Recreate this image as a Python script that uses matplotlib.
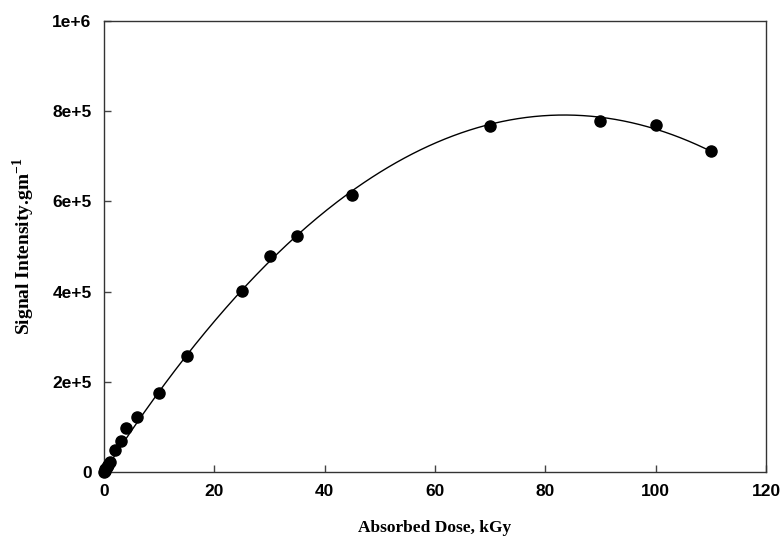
import numpy as np
import matplotlib.pyplot as plt

plt.rcParams['mathtext.fontset'] = 'custom'
plt.rcParams['mathtext.rm'] = 'Liberation Serif:bold'
plt.rcParams['mathtext.bf'] = 'Liberation Serif:bold'

# absorbed dose (kGy) and signal intensity per gram
dose = [0, 0.1, 0.25, 0.5, 0.75, 1.0, 2, 3, 4, 6, 10, 15, 25, 30, 35, 45, 70, 90, 100, 110]
signal = [0, 3.0e3, 6.5e3, 1.1e4, 1.6e4, 2.1e4, 4.9e4, 6.9e4, 9.8e4, 1.22e5, 1.75e5, 2.58e5,
          4.02e5, 4.78e5, 5.24e5, 6.15e5, 7.68e5, 7.78e5, 7.69e5, 7.12e5]

xticks = [0, 20, 40, 60, 80, 100, 120]
yticks = [0, 2e5, 4e5, 6e5, 8e5, 1e6]
ytick_labels = ['0', '2e+5', '4e+5', '6e+5', '8e+5', '1e+6']

fig = plt.figure(figsize=(7.84, 5.4), dpi=100)
ax = fig.add_axes([0.1327, 0.126, 0.8443, 0.835])

# second order regression line forced through the origin
d = np.array(dose)
A = np.column_stack([d, d ** 2])
coef, *_ = np.linalg.lstsq(A, np.array(signal), rcond=None)
xs = np.linspace(0, 110, 300)
ax.plot(xs, coef[0] * xs + coef[1] * xs ** 2, '-', color='black', lw=1.0)
ax.plot(dose, signal, 'o', color='black', ms=8, clip_on=False, zorder=3)

ax.set_xlim(0, 120)
ax.set_ylim(0, 1e6)
ax.set_xticks(xticks)
ax.set_yticks(yticks)
ax.set_yticklabels(ytick_labels)
ax.tick_params(direction='in', length=5, width=1, pad=9, color='#444444')
for lab in ax.get_xticklabels() + ax.get_yticklabels():
    lab.set_family('Liberation Sans')
    lab.set_fontweight('bold')
    lab.set_fontsize(12.5)
for s in ax.spines.values():
    s.set_color('#333333')
    s.set_linewidth(1.0)

ax.set_xlabel('Absorbed Dose, kGy', family='Liberation Serif', fontweight='bold',
              fontsize=12.5, labelpad=15)
ax.set_ylabel(r'Signal Intensity.gm$^{\mathrm{-1}}$', family='Liberation Serif',
              fontweight='bold', fontsize=14, labelpad=11)

fig.savefig('out.png', dpi=100)
